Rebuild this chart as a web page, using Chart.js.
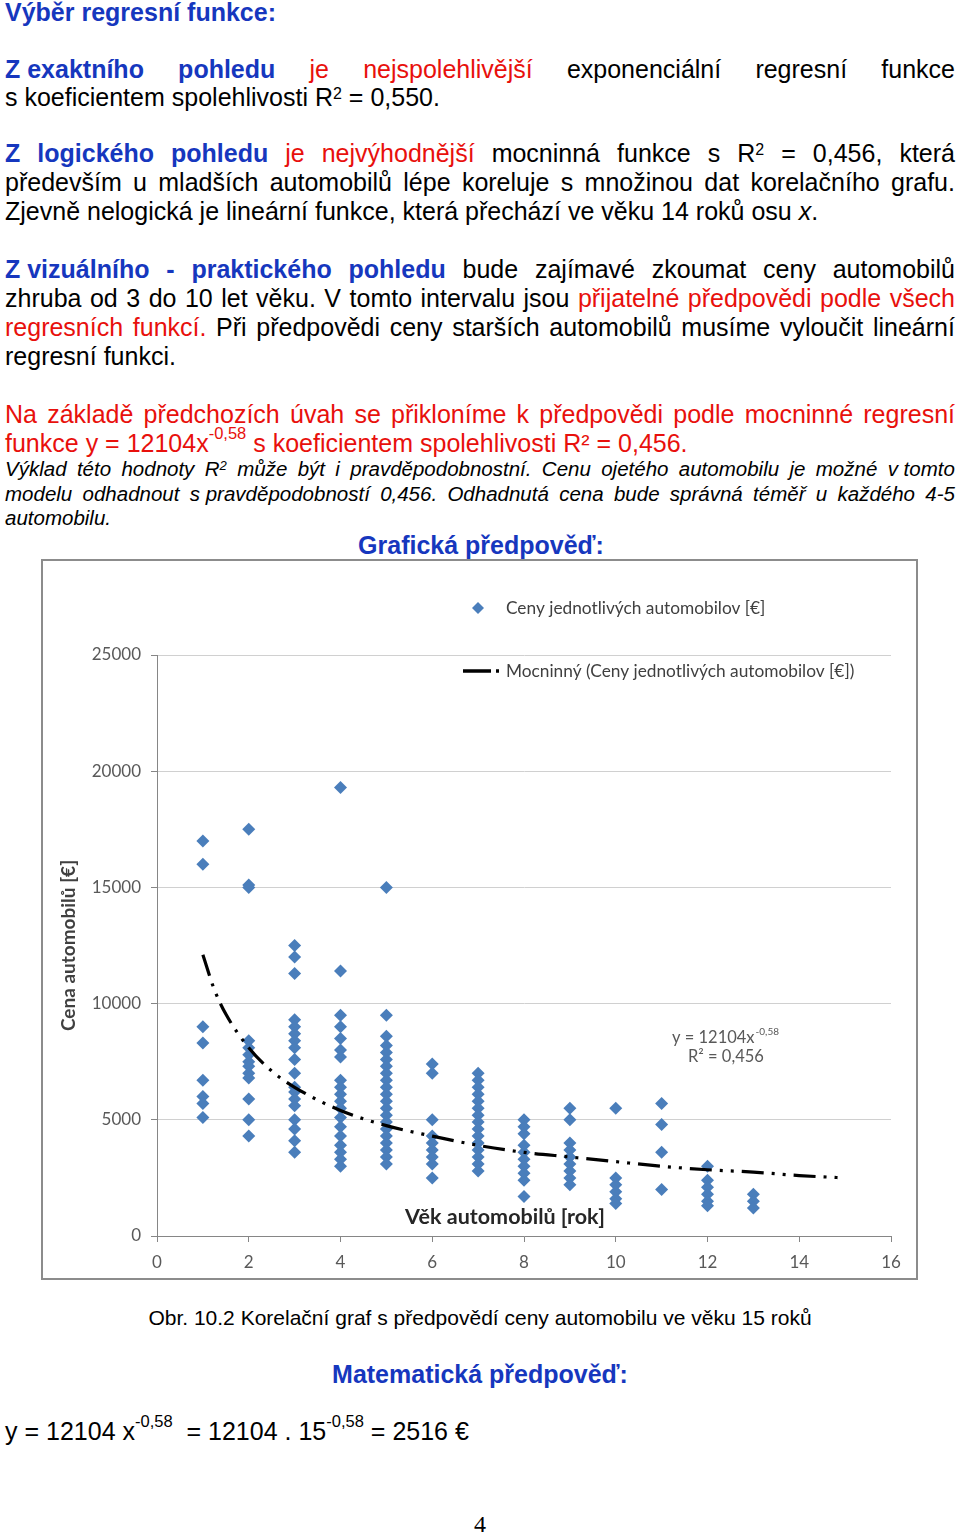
<!DOCTYPE html>
<html><head><meta charset="utf-8">
<script src="https://cdn.jsdelivr.net/npm/chart.js@4.4.0/dist/chart.umd.min.js"></script>
<style>
html,body{margin:0;padding:0;background:#fff;}
body{width:960px;height:1536px;position:relative;overflow:hidden;font-family:"Liberation Sans",Arial,sans-serif;color:#000;}
.ln{position:absolute;white-space:nowrap;line-height:1;}
.j{display:flex;justify-content:space-between;}
.bb{color:#1637be;font-weight:bold;}
.r{color:#e8100c;}
.i{font-style:italic;}
.s1{font-size:0.64em;position:relative;top:-0.42em;line-height:0;}
.s2{font-size:0.66em;position:relative;top:-0.78em;line-height:0;}
.serif{font-family:"Liberation Serif","Times New Roman",serif;}
#box{position:absolute;left:41px;top:559px;width:877px;height:721px;box-sizing:border-box;border:2px solid #8c8c8c;}
#chart{position:absolute;left:43px;top:561px;}
</style></head><body>
<div id="text"></div>
<div id="box"></div>
<canvas id="chart" width="873" height="717"></canvas>
<script>
// ---------- chart data ----------
const ages = [1, 2, 3, 4, 5, 6, 7, 8, 9, 10, 11, 12, 13];
const pricesAge1 = [17000, 16000, 9000, 8300, 6700, 6000, 5700, 5100];
const pricesAge2 = [17500, 15100, 15000, 8400, 8100, 7800, 7500, 7300, 7000, 6800, 5900, 5000, 4300];
const pricesAge3 = [12500, 12000, 11300, 9300, 9000, 8700, 8400, 8100, 7600, 7000, 6400, 6200, 5900, 5600, 5000, 4600, 4100, 3600];
const pricesAge4 = [19300, 11400, 9500, 9000, 8500, 8000, 7700, 6700, 6400, 6100, 5800, 5500, 5100, 4700, 4300, 3900, 3600, 3300, 3000];
const pricesAge5 = [15000, 9500, 8600, 8200, 7900, 7600, 7300, 7000, 6700, 6400, 6100, 5800, 5500, 5200, 4900, 4600, 4300, 4000, 3700, 3400, 3100];
const pricesAge6 = [7400, 7000, 5000, 4300, 4000, 3700, 3400, 3100, 2500];
const pricesAge7 = [7000, 6700, 6400, 6100, 5800, 5500, 5200, 4900, 4600, 4300, 4000, 3700, 3400, 3100, 2800];
const pricesAge8 = [5000, 4700, 4400, 3900, 3600, 3300, 3000, 2700, 2400, 1700];
const pricesAge9 = [5500, 5000, 4000, 3700, 3400, 3100, 2800, 2500, 2200];
const pricesAge10 = [5500, 2500, 2200, 1900, 1600, 1400];
const pricesAge11 = [5700, 4800, 3600, 2000];
const pricesAge12 = [3000, 2400, 2100, 1800, 1500, 1300];
const pricesAge13 = [1800, 1500, 1200];
const pricesByAge = [pricesAge1, pricesAge2, pricesAge3, pricesAge4, pricesAge5, pricesAge6, pricesAge7,
  pricesAge8, pricesAge9, pricesAge10, pricesAge11, pricesAge12, pricesAge13];

// power trendline
const trendAges   = [1, 1.25, 1.5, 2, 2.5, 3, 4, 5, 6, 7, 8, 9, 10, 11, 12, 13, 14, 15];
const trendPrices = [12100, 10600, 9550, 8100, 7100, 6400, 5400, 4750, 4300, 3900, 3600, 3400, 3200, 3000, 2850, 2750, 2600, 2500];

const xTicks = [0, 2, 4, 6, 8, 10, 12, 14, 16];
const yTicks = [0, 5000, 10000, 15000, 20000, 25000];

const seriesLabel = 'Ceny jednotlivých automobilov [€]';
const trendLabel = 'Mocninný (Ceny jednotlivých automobilov [€])';
const xTitle = 'Věk automobilů [rok]';
const yTitle = 'Cena automobilů [€]';
const eqMain = 'y = 12104x';
const eqExp = '-0,58';
const eqR2 = 'R² = 0,456';

// ---------- page text ----------
const B='bb', R='r', K='', I='i', S='s1', S2='s2';
const NB='\u00a0';
const lines = [
  [21, 25, 'l', [[B,'Výběr regresní funkce:']]],
  [78, 25, 'j', [[B,'Z'+NB+'exaktního pohledu'],[R,' je nejspolehlivější'],[K,' exponenciální regresní funkce']]],
  [106, 25, 'l', [[K,'s koeficientem spolehlivosti R'],[S,'2'],[K,' = 0,550.']]],
  [162, 25, 'j', [[B,'Z logického pohledu'],[R,' je nejvýhodnější'],[K,' mocninná funkce s R'],[S,'2'],[K,' = 0,456, která']]],
  [191, 25, 'j', [[K,'především u mladších automobilů lépe koreluje s množinou dat korelačního grafu.']]],
  [220, 25, 'l', [[K,'Zjevně nelogická je lineární funkce, která přechází ve věku 14 roků osu '],[I,'x'],[K,'.']]],
  [278, 25, 'j', [[B,'Z'+NB+'vizuálního - praktického pohledu'],[K,' bude zajímavé zkoumat ceny automobilů']]],
  [307, 25, 'j', [[K,'zhruba od 3 do 10 let věku. V tomto intervalu jsou '],[R,'přijatelné předpovědi podle všech']]],
  [336, 25, 'j', [[R,'regresních funkcí.'],[K,' Při předpovědi ceny starších automobilů musíme vyloučit lineární']]],
  [365, 25, 'l', [[K,'regresní funkci.']]],
  [423, 25, 'j', [[R,'Na základě předchozích úvah se přikloníme k předpovědi podle mocninné regresní']]],
  [452, 25, 'l', [[R,'funkce y = 12104x'],[R+' '+S2,'-0,58'],[R,' s koeficientem spolehlivosti R² = 0,456.']]],
  [476, 20.5, 'j', [[I,'Výklad této hodnoty R'],[I+' '+S,'2'],[I,' může být i pravděpodobnostní. Cenu ojetého automobilu je možné v'+NB+'tomto']]],
  [501, 20.5, 'j', [[I,'modelu odhadnout s'+NB+'pravděpodobností 0,456. Odhadnutá cena bude správná téměř u každého 4-5']]],
  [525, 20.5, 'l', [[I,'automobilu.']]],
  [554, 25, 'c481', [[B,'Grafická předpověď:']]],
  [1325, 21, 'c480', [[K,'Obr. 10.2 Korelační graf s předpovědí ceny automobilu ve věku 15 roků']]],
  [1383, 25, 'c480', [[B,'Matematická předpověď:']]],
  [1440, 25, 'l', [[K,'y = 12104 x'],[S2,'-0,58'],[K,NB+NB+'= 12104 . 15'],[S2,'-0,58'],[K,NB+'= 2516 €']]],
  [1532, 24, 'c480', [['serif','4']]]
];

function buildWords(segs){
  const words=[]; let cur=[];
  for (const [st, txt] of segs){
    const parts = txt.split(' ');
    parts.forEach((p,i)=>{
      if(i>0){ if(cur.length) words.push(cur); cur=[]; }
      if(p) cur.push([st,p]);
    });
  }
  if(cur.length) words.push(cur);
  return words;
}
function wordEl(w){
  const sp=document.createElement('span');
  w.forEach(([st,t])=>{const s=document.createElement('span'); if(st) s.className=st; s.textContent=t; sp.appendChild(s);});
  return sp;
}
const host=document.getElementById('text');
lines.forEach(([base,size,mode,segs])=>{
  const d=document.createElement('div');
  d.className='ln';
  d.style.fontSize=size+'px';
  d.style.top=(base-0.8465*size)+'px';
  const words=buildWords(segs);
  if(mode==='j'){
    d.classList.add('j'); d.style.left='5px'; d.style.width='950px';
    words.forEach(w=>d.appendChild(wordEl(w)));
  } else {
    if(mode[0]==='c'){ const cx=+mode.slice(1); d.style.left=(cx-480)+'px'; d.style.width='960px'; d.style.textAlign='center'; }
    else d.style.left='5px';
    words.forEach((w,i)=>{ if(i>0) d.appendChild(document.createTextNode(' ')); d.appendChild(wordEl(w)); });
  }
  host.appendChild(d);
});

// ---------- chart ----------
const points = ages.flatMap((a,i)=>pricesByAge[i].map(p=>({x:a,y:p})));
const trend = trendAges.map((a,i)=>({x:a,y:trendPrices[i]}));
const blue = '#4a7ebb';
const trendDash = [22, 8, 3, 8, 3, 8];

const overlay = {
  id:'overlay',
  afterDraw(chart){
    const c=chart.ctx, a=chart.chartArea;
    c.save();
    // x axis title (inside plot area)
    c.font='bold 21.5px Lato'; c.fillStyle='#262626'; c.textAlign='center'; c.textBaseline='middle';
    c.fillText(xTitle, a.left+348, a.bottom-19);
    // trendline equation
    c.fillStyle='#595959'; c.textAlign='left'; c.textBaseline='alphabetic';
    c.font='16.5px Lato';
    const ex=a.left+515, ey=a.top+388;
    c.fillText(eqMain, ex, ey);
    const w=c.measureText(eqMain).width;
    c.font='10px Lato';
    c.fillText(eqExp, ex+w+1, ey-8);
    c.font='16.5px Lato';
    c.fillText(eqR2, a.left+531, ey+19);
    // legend
    const ds=chart.data.datasets;
    c.font='17.3px Lato'; c.textBaseline='middle';
    const lx=a.left+321, ly1=a.top-47, ly2=a.top+16;
    c.fillStyle=blue;
    c.beginPath(); c.moveTo(lx,ly1-6); c.lineTo(lx+6,ly1); c.lineTo(lx,ly1+6); c.lineTo(lx-6,ly1); c.closePath(); c.fill();
    c.fillStyle='#404040';
    c.fillText(ds[0].label, a.left+349, ly1);
    c.strokeStyle='#000'; c.lineWidth=3.5; c.setLineDash([28,5,3,200]);
    c.beginPath(); c.moveTo(a.left+306, ly2); c.lineTo(a.left+343, ly2); c.stroke();
    c.setLineDash([]);
    c.fillText(ds[1].label, a.left+349, ly2);
    c.restore();
  }
};

new Chart(document.getElementById('chart'), {
  type:'scatter',
  data:{datasets:[
    {label:seriesLabel, data:points, pointStyle:'rectRot', pointRadius:6.5, pointHoverRadius:6.5,
     backgroundColor:blue, borderColor:blue, borderWidth:0, order:2},
    {type:'line', label:trendLabel, data:trend, borderColor:'#000', borderWidth:3.2, borderDash:trendDash,
     pointRadius:0, cubicInterpolationMode:'monotone', fill:false, order:1}
  ]},
  options:{
    responsive:false, animation:false, devicePixelRatio:1,
    layout:{padding:{top:94, right:25, left:0, bottom:0}},
    plugins:{legend:{display:false}, tooltip:{enabled:false}},
    scales:{
      x:{type:'linear', min:0, max:16,
         afterBuildTicks:s=>{s.ticks=xTicks.map(v=>({value:v}));},
         ticks:{font:{family:'Lato', size:17}, color:'#595959', padding:10, maxRotation:0, callback:v=>String(v)},
         grid:{drawOnChartArea:false, tickLength:6, tickColor:'#868686'},
         border:{color:'#868686'},
         afterFit:s=>{s.height=42;}},
      y:{min:0, max:25000,
         afterBuildTicks:s=>{s.ticks=yTicks.map(v=>({value:v}));},
         ticks:{font:{family:'Lato', size:17}, color:'#595959', padding:10, callback:v=>String(v)},
         grid:{color:'#d0d0d0', tickLength:6, tickColor:'#868686'},
         border:{color:'#868686'},
         title:{display:true, text:yTitle, font:{family:'Lato', size:19, weight:'bold'}, color:'#404040', padding:{top:14, bottom:0}},
         afterFit:s=>{s.width=114;}}
    }
  },
  plugins:[overlay]
});
</script>
</body></html>
